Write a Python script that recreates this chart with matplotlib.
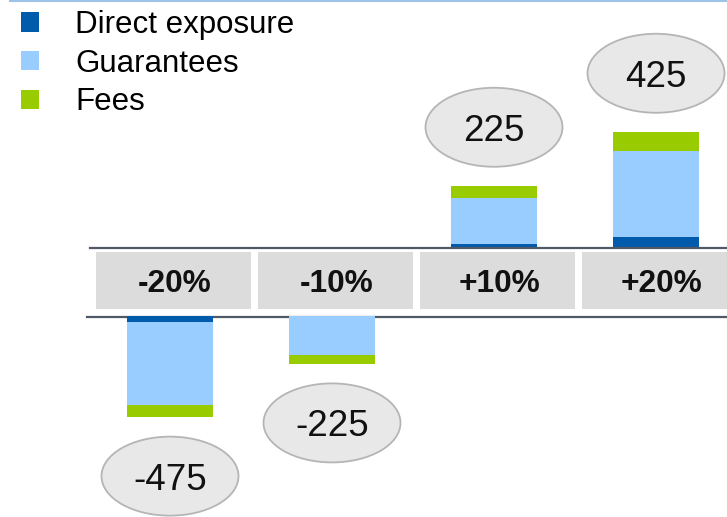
import matplotlib.pyplot as plt
from matplotlib.patches import Ellipse, Patch
from matplotlib.lines import Line2D

plt.rcParams['font.family'] = ['Liberation Sans', 'DejaVu Sans']

# --- Data: sensitivity of the result to a shift in the market ---
scenarios = ['-20%', '-10%', '+10%', '+20%']
direct_exposure = [-28, 0, 12, 37]
guarantees = [-392, -181, 168, 318]
fees = [-55, -44, 45, 70]

series_names = ['Direct exposure', 'Guarantees', 'Fees']
series_colors = ['#005BAC', '#99CCFF', '#99CC00']

# --- Layout (pixels on a 727 x 517 canvas) ---
W, H = 727, 517
SLOT = 162          # horizontal distance between scenarios
X0 = 170            # centre of the first scenario
UP_BASE = 247       # zero line of the upper panel
DN_BASE = 316       # zero line of the lower panel
UP_MAX = 915        # value at the top edge of the upper panel
DN_MIN = -944       # value at the bottom edge of the lower panel

fig = plt.figure(figsize=(W / 100, H / 100), dpi=100)


def px_axes(top, bottom):
    ax = fig.add_axes([0, 1 - bottom / H, 1, (bottom - top) / H])
    ax.set_xlim(-X0 / SLOT, (W - X0) / SLOT)
    ax.axis('off')
    return ax


ax_up = px_axes(0, UP_BASE)
ax_mid = px_axes(UP_BASE, DN_BASE)
ax_dn = px_axes(DN_BASE, H)
ax_up.set_ylim(0, UP_MAX)
ax_dn.set_ylim(DN_MIN, 0)
ax_mid.set_ylim(0, DN_BASE - UP_BASE)

x = list(range(len(scenarios)))
totals = [d + g + f for d, g, f in zip(direct_exposure, guarantees, fees)]

# stacked bars: direct exposure next to the axis, fees on the outside
for i, tot in enumerate(totals):
    ax = ax_up if tot > 0 else ax_dn
    bottom = 0
    for vals, color in zip([direct_exposure, guarantees, fees], series_colors):
        v = vals[i]
        if v != 0:
            ax.bar(x[i], v, bottom=bottom, width=86 / SLOT, color=color,
                   linewidth=0)
        bottom += v

    # grey oval with the total, a fixed distance beyond the bar end
    lo, hi = ax.get_ylim()
    per_px = (hi - lo) / ax.bbox.height
    sign = 1 if tot > 0 else -1
    cy = tot + sign * 59 * per_px
    ax.add_patch(Ellipse((x[i], cy), width=137 / SLOT, height=79 * per_px,
                         facecolor='#E8E8E8', edgecolor='#B5B5B5',
                         linewidth=1.3, clip_on=False))
    ax.text(x[i], cy, f'{tot}', ha='center', va='center_baseline',
            fontsize=26.5, color='#111111')

# scenario boxes between the two panels
ax_mid.bar([xi + 3 / SLOT for xi in x], 57, bottom=7, width=155 / SLOT,
           color='#DCDCDC', linewidth=0)
for xi, name in zip(x, scenarios):
    ax_mid.text(xi + 5 / SLOT, 35.5, name, ha='center', va='center_baseline',
                fontsize=22.8, fontweight='bold', color='#111111')

# zero lines framing the scenario boxes
ax_mid.axhline(68.5, xmin=90 / W, xmax=1, color='#4F5A66', lw=1.6,
               clip_on=False)
ax_mid.axhline(-0.5, xmin=87 / W, xmax=1, color='#4F5A66', lw=1.6,
               clip_on=False)

# thin rule along the top edge
fig.add_artist(Line2D([10 / W, 1], [1 - 1 / H, 1 - 1 / H],
                      transform=fig.transFigure, color='#9DC3E6', lw=1.5))

handles = [Patch(facecolor=c, edgecolor='none') for c in series_colors]
fig.legend(handles, series_names, loc='upper left',
           bbox_to_anchor=(21 / W, 1 - 10 / H), frameon=False,
           fontsize=22.5, handlelength=0.58, handleheight=0.58,
           handletextpad=1.15, labelspacing=0.28, borderpad=0,
           borderaxespad=0)

fig.savefig('out.png', dpi=100)
